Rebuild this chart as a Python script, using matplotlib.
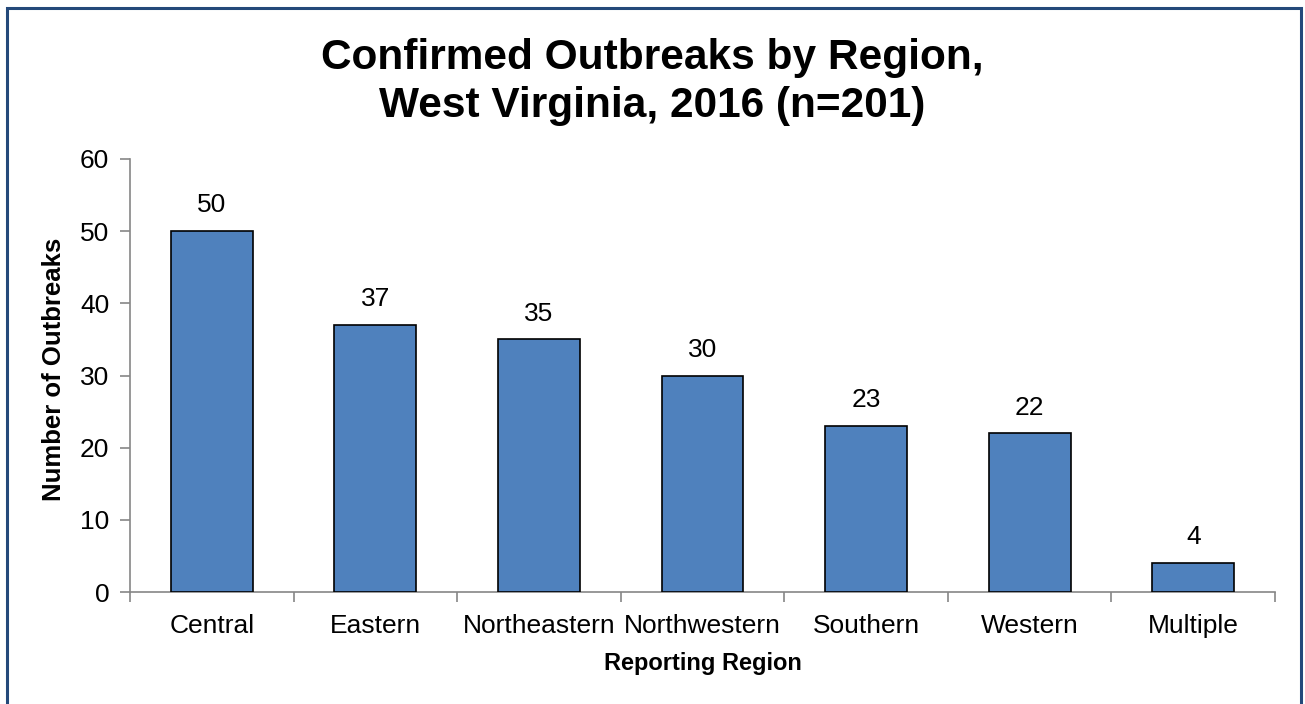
import matplotlib
matplotlib.use("Agg")
import matplotlib.pyplot as plt
from matplotlib.patches import Rectangle

regions = ["Central", "Eastern", "Northeastern", "Northwestern", "Southern", "Western", "Multiple"]
outbreaks = [50, 37, 35, 30, 23, 22, 4]
yticks = [0, 10, 20, 30, 40, 50, 60]

plt.rcParams['font.family'] = ['Liberation Sans', 'DejaVu Sans']

W, H = 1305, 704
fig = plt.figure(figsize=(W / 100, H / 100), dpi=100)

# dark blue frame round the chart (open at the bottom)
fig.patches.append(Rectangle((7 / W, -0.05), 1294 / W, 1.05 - 8 / H, transform=fig.transFigure,
                             fill=False, edgecolor="#24497A", linewidth=2.2))

ax = fig.add_axes([130 / W, 1 - 592 / H, (1275 - 130) / W, (592 - 159) / H])
x = range(len(regions))
ax.bar(x, outbreaks, width=0.5, color="#4F81BD", edgecolor="black", linewidth=1.2, zorder=3)

for xi, v in zip(x, outbreaks):
    ax.text(xi, v + 1.9, str(v), ha="center", va="bottom", fontsize=19)

ax.set_xlim(-0.5, len(regions) - 0.5)
ax.set_ylim(0, 60)
ax.set_yticks(yticks)
ax.tick_params(axis="y", labelsize=19, length=7, color="#868686", width=1.2, pad=8)
ax.set_xticks(list(x))
ax.set_xticklabels(regions, fontsize=19)
ax.tick_params(axis="x", length=0, pad=16)
ax.set_xticks([i - 0.5 for i in range(len(regions) + 1)], minor=True)
ax.tick_params(axis="x", which="minor", length=7, color="#868686", width=1.2)

for s in ["top", "right"]:
    ax.spines[s].set_visible(False)
for s in ["left", "bottom"]:
    ax.spines[s].set_color("#868686")
    ax.spines[s].set_linewidth(1.2)

ax.set_xlabel("Reporting Region", fontsize=17, fontweight="bold", labelpad=10)
ax.set_ylabel("Number of Outbreaks", fontsize=18.5, fontweight="bold")
ax.yaxis.set_label_coords(-(130 - 66) / (1275 - 130), 0.5 + 6 / 433)

fig.text(0.5, 1 - 82 / H, "Confirmed Outbreaks by Region,\nWest Virginia, 2016 (n=201)",
         ha="center", va="center", fontsize=30.5, fontweight="bold", linespacing=1.25)

fig.savefig("out.png", dpi=100)
